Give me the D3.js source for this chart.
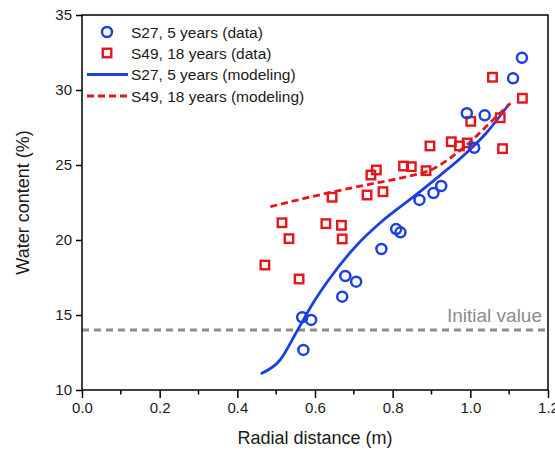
<!DOCTYPE html>
<html>
<head>
<meta charset="utf-8">
<script src="https://cdn.jsdelivr.net/npm/d3@7"></script>
<style>
  html, body { margin: 0; padding: 0; background: #fff; }
  svg { display: block; font-family: "Liberation Sans", Arial, sans-serif; }
</style>
</head>
<body>
<svg id="chart" width="555" height="451"></svg>
<script>
// Measured water content around the two sites
const s27X = [1.133, 1.110, 0.991, 1.037, 1.010, 0.925, 0.905, 0.869, 0.771, 0.809, 0.820, 0.678, 0.706, 0.670, 0.567, 0.590, 0.570];
const s27Y = [32.15, 30.78, 28.45, 28.31, 26.15, 23.60, 23.13, 22.67, 19.40, 20.73, 20.51, 17.60, 17.22, 16.22, 14.85, 14.67, 12.67];

const s49X = [1.057, 1.134, 1.001, 1.077, 0.896, 0.951, 0.972, 0.992, 1.083, 0.744, 0.758, 0.828, 0.848, 0.886, 0.644, 0.734, 0.775, 0.515, 0.533, 0.628, 0.668, 0.670, 0.471, 0.559];
const s49Y = [30.85, 29.45, 27.91, 28.15, 26.27, 26.55, 26.27, 26.47, 26.09, 24.33, 24.67, 24.93, 24.89, 24.62, 22.85, 23.00, 23.22, 21.15, 20.09, 21.09, 20.98, 20.07, 18.33, 17.40];

// Model curves
const s27ModelX = [0.463, 0.510, 0.553, 0.592, 0.635, 0.708, 0.768, 0.854, 0.923, 0.979, 1.040, 1.098];
const s27ModelY = [11.11, 12.00, 13.89, 15.67, 17.33, 19.67, 21.15, 22.89, 24.33, 25.55, 27.10, 29.00];

const s49ModelX = [0.485, 0.562, 0.648, 0.760, 0.845, 0.905, 0.950, 1.000, 1.050, 1.103];
const s49ModelY = [22.22, 22.71, 23.22, 23.82, 24.27, 24.75, 25.50, 26.55, 27.80, 29.11];

const initialValue = 14;

const xTicks = [0.0, 0.2, 0.4, 0.6, 0.8, 1.0, 1.2];
const xMinorTicks = [0.1, 0.3, 0.5, 0.7, 0.9, 1.1];
const yTicks = [10, 15, 20, 25, 30, 35];

const legendLabels = [
  "S27, 5 years (data)",
  "S49, 18 years (data)",
  "S27, 5 years (modeling)",
  "S49, 18 years (modeling)"
];

const blue = "#1c3fe0";
const red = "#e4161c";
const grey = "#8c8c8c";

const svg = d3.select("#chart");
const margin = { left: 82, right: 7, top: 15, bottom: 61 };
const W = 555, H = 451;

const x = d3.scaleLinear().domain([0, 1.2]).range([margin.left, W - margin.right]);
const y = d3.scaleLinear().domain([10, 35]).range([H - margin.bottom, margin.top]);

// Initial value reference line
svg.append("line")
  .attr("x1", x(0)).attr("x2", x(1.2))
  .attr("y1", y(initialValue)).attr("y2", y(initialValue))
  .attr("stroke", grey).attr("stroke-width", 3)
  .attr("stroke-dasharray", "7,5");

svg.append("text")
  .attr("x", x(1.2) - 6).attr("y", y(initialValue) - 8)
  .attr("text-anchor", "end")
  .attr("font-size", 19).attr("fill", grey)
  .text("Initial value");

// Model lines
const line = d3.line().curve(d3.curveMonotoneX).x(d => x(d[0])).y(d => y(d[1]));

svg.append("path")
  .datum(s27ModelX.map((v, i) => [v, s27ModelY[i]]))
  .attr("d", line)
  .attr("fill", "none").attr("stroke", blue).attr("stroke-width", 2.8)
  .attr("stroke-linejoin", "round").attr("stroke-linecap", "round");

svg.append("path")
  .datum(s49ModelX.map((v, i) => [v, s49ModelY[i]]))
  .attr("d", line)
  .attr("fill", "none").attr("stroke", red).attr("stroke-width", 2.8)
  .attr("stroke-dasharray", "7,4");

// Data markers
const sq = 8.5;
svg.append("g").selectAll("rect")
  .data(s49X.map((v, i) => [v, s49Y[i]]))
  .join("rect")
  .attr("x", d => x(d[0]) - sq / 2).attr("y", d => y(d[1]) - sq / 2)
  .attr("width", sq).attr("height", sq)
  .attr("fill", "none").attr("stroke", red).attr("stroke-width", 2.4);

svg.append("g").selectAll("circle")
  .data(s27X.map((v, i) => [v, s27Y[i]]))
  .join("circle")
  .attr("cx", d => x(d[0])).attr("cy", d => y(d[1]))
  .attr("r", 5)
  .attr("fill", "none").attr("stroke", blue).attr("stroke-width", 2.5);

// Axes
const xAxis = d3.axisBottom(x).tickValues(xTicks).tickFormat(d3.format(".1f")).tickSize(8).tickPadding(4);
const gx = svg.append("g").attr("transform", `translate(0,${y(10)})`).call(xAxis);
gx.append("g").selectAll("line")
  .data(xMinorTicks).join("line")
  .attr("x1", d => x(d)).attr("x2", d => x(d))
  .attr("y1", 0).attr("y2", 4.5)
  .attr("stroke", "#000").attr("stroke-width", 1.5);

const yAxis = d3.axisLeft(y).tickValues(yTicks).tickSize(6).tickPadding(4);
const gy = svg.append("g").attr("transform", `translate(${x(0)},0)`).call(yAxis);

[gx, gy].forEach(g => {
  g.select(".domain").remove();
  g.selectAll(".tick line").attr("stroke", "#000").attr("stroke-width", 1.5);
  g.selectAll(".tick text").attr("font-size", 15).attr("fill", "#1a1a1a")
    .attr("font-family", "'Liberation Sans', Arial, sans-serif");
});

// Frame
svg.append("rect")
  .attr("x", x(0)).attr("y", y(35))
  .attr("width", x(1.2) - x(0)).attr("height", y(10) - y(35))
  .attr("fill", "none").attr("stroke", "#000").attr("stroke-width", 1.5);

// Axis titles
svg.append("text")
  .attr("x", (x(0) + x(1.2)) / 2).attr("y", 444)
  .attr("text-anchor", "middle").attr("font-size", 18).attr("fill", "#1a1a1a")
  .text("Radial distance (m)");

svg.append("text")
  .attr("transform", `translate(29,${(y(10) + y(35)) / 2}) rotate(-90)`)
  .attr("text-anchor", "middle").attr("font-size", 18).attr("fill", "#1a1a1a")
  .text("Water content (%)");

// Legend
const legendY = [32, 53, 74.5, 96];
const legend = svg.append("g");
legendLabels.forEach((label, i) => {
  const ly = legendY[i];
  if (i === 0) {
    legend.append("circle").attr("cx", 107).attr("cy", ly).attr("r", 5)
      .attr("fill", "none").attr("stroke", blue).attr("stroke-width", 2.5);
  } else if (i === 1) {
    legend.append("rect").attr("x", 107 - sq / 2).attr("y", ly - sq / 2)
      .attr("width", sq).attr("height", sq)
      .attr("fill", "none").attr("stroke", red).attr("stroke-width", 2.4);
  } else {
    legend.append("line").attr("x1", 87).attr("x2", 128).attr("y1", ly).attr("y2", ly)
      .attr("stroke", i === 2 ? blue : red).attr("stroke-width", 2.8)
      .attr("stroke-dasharray", i === 3 ? "7,4" : null);
  }
  legend.append("text").attr("x", 131).attr("y", ly + 5.5)
    .attr("font-size", 15.5).attr("fill", "#1a1a1a").text(label);
});
</script>
</body>
</html>
